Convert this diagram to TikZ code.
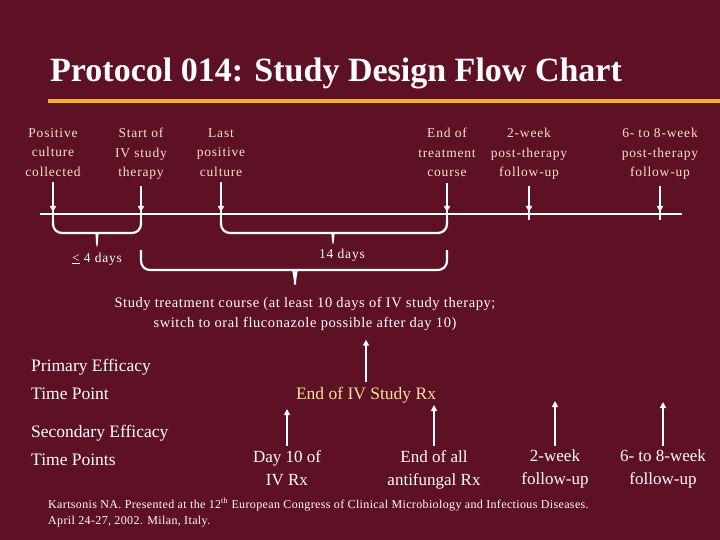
\documentclass[tikz,border=0pt]{standalone}
\usepackage{fontspec}
\setmainfont{Liberation Serif}
\usetikzlibrary{arrows.meta,positioning}
\definecolor{slidebg}{HTML}{5E1024}
\definecolor{cream}{HTML}{F3E6C6}
\definecolor{rulegold}{HTML}{F2B423}
\definecolor{paleyellow}{HTML}{F7E39A}

\begin{document}
\begin{tikzpicture}[x=1pt,y=-1pt,>={Triangle[width=6pt,length=6pt]},
   line/.style={white,line width=2.2pt},
   brace/.style={white,line width=2.2pt,rounded corners=9pt},
   downarr/.style={->,white,line width=2.2pt,shorten <=6pt},
   uparr/.style={->,white,line width=2pt},
   toplbl/.style={align=center,text=cream,anchor=north,inner sep=0pt,
      font=\fontsize{13.5}{19.5}\selectfont\addfontfeature{LetterSpace=6}},
   daylbl/.style={text=white,inner sep=0pt,
      font=\fontsize{13.5}{19.5}\selectfont\addfontfeature{LetterSpace=6}},
   sidelbl/.style={text=white,anchor=base west,inner sep=0pt,font=\fontsize{17.5}{20}\selectfont},
   botlbl/.style={align=center,text=white,anchor=north,inner sep=0pt,font=\fontsize{17}{23}\selectfont}]
  \fill[slidebg] (0,0) rectangle (720,540);
  \useasboundingbox (0,0) rectangle (720,540);

  % title
  \node[anchor=base west,inner sep=0pt,text=white,font=\fontsize{34}{38}\selectfont\bfseries]
     (title) at (50,82) {Protocol 014: Study Design Flow Chart};
  \draw[rulegold,line width=4pt] (48,101) -- (720,101);

  % time line and events
  \node[toplbl] (pcc) at (53,128) {Positive\\culture\\collected};
  \node[toplbl] (siv) at (141,128) {Start of\\IV study\\therapy};
  \node[toplbl] (lpc) at (221,128) {Last\\positive\\culture};
  \node[toplbl] (eot) at (447,128) {End of\\treatment\\course};
  \node[toplbl] (fu2) at (529,128) {2-week\\post-therapy\\follow-up};
  \node[toplbl] (fu6) at (660,128) {6- to 8-week\\post-therapy\\follow-up};

  \coordinate (tl0) at (40,214);
  \coordinate (tl1) at (682,214);
  \draw[line] (tl0) -- (tl1);
  \foreach \x/\n in {53/1,141/2,221/3,447/4,529/5,660/6} {
    \coordinate (k\n) at (\x,212);
    \draw[line] (\x,207) -- (\x,220);
  }
  \draw[downarr] (pcc.south) -- (k1);
  \draw[downarr] (siv.south) -- (k2);
  \draw[downarr] (lpc.south) -- (k3);
  \draw[downarr] (eot.south) -- (k4);
  \draw[downarr] (fu2.south) -- (k5);
  \draw[downarr] (fu6.south) -- (k6);

  % braces
  \draw[brace] (53,219) |- (90,233) to[out=0,in=90] (97,246)
     to[out=90,in=180] (104,233) -| (141,219);
  \draw[brace] (221,219) |- (326,233) to[out=0,in=90] (333,245)
     to[out=90,in=180] (340,233) -| (447,219);
  \draw[brace] (141,250) |- (288,270) to[out=0,in=90] (295,290)
     to[out=90,in=180] (302,270) -| (447,250);
  \node[daylbl] (le4) at (97,259) {\underline{<} 4 days};
  \node[daylbl] (d14) at (342,255) {14 days};

  \node[align=center,text=white,inner sep=0pt,anchor=north,
     font=\fontsize{14.5}{20}\selectfont\addfontfeature{LetterSpace=4}] (stc) at (305,297)
     {Study treatment course (at least 10 days of IV study therapy;\\
      switch to oral fluconazole possible after day 10)};

  % efficacy time points
  \node[sidelbl] (pe1) at (31,371) {Primary Efficacy};
  \node[sidelbl] (pe2) at (31,399) {Time Point};
  \node[sidelbl] (se1) at (31,437) {Secondary Efficacy};
  \node[sidelbl] (se2) at (31,465) {Time Points};

  \node[text=paleyellow,inner sep=0pt,anchor=base,font=\fontsize{17.5}{20}\selectfont]
     (eiv) at (366,399) {End of IV Study Rx};
  \draw[uparr,shorten <=4pt] (eiv.north) -- (eiv.north |- stc.south)
     [shorten >=9pt];

  \node[botlbl] (d10) at (287,450) {Day 10 of\\IV Rx};
  \node[botlbl] (eaf) at (434,450) {End of all\\antifungal Rx};
  \node[botlbl] (w2) at (555,450) {2-week\\follow-up};
  \node[botlbl] (w6) at (663,450) {6- to 8-week\\follow-up};
  \coordinate (u1) at (287,409);
  \coordinate (u2) at (434,405);
  \coordinate (u3) at (555,401);
  \coordinate (u4) at (663,402);
  \draw[uparr,shorten <=4pt] (d10.north) -- (u1);
  \draw[uparr,shorten <=4pt] (eaf.north) -- (u2);
  \draw[uparr,shorten <=4pt] (w2.north) -- (u3);
  \draw[uparr,shorten <=4pt] (w6.north) -- (u4);

  % reference
  \node[anchor=base west,align=left,text=white,inner sep=0pt,
     font=\fontsize{12}{16}\selectfont\addfontfeature{LetterSpace=3}] (ref) at (48,524)
     {Kartsonis NA. Presented at the 12\textsuperscript{th} European Congress of Clinical Microbiology and Infectious Diseases.\\
      April 24-27, 2002. Milan, Italy.};
\end{tikzpicture}
\end{document}
